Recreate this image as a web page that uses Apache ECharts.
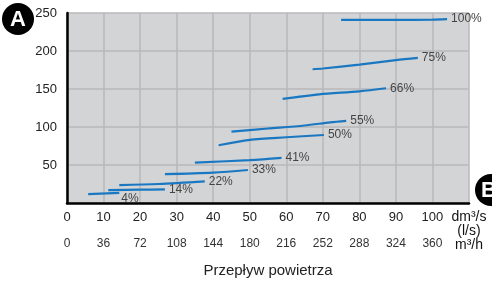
<!DOCTYPE html>
<html lang="pl">
<head>
    <meta charset="UTF-8">
    <title>Przepływ powietrza</title>
    <script src="https://cdn.jsdelivr.net/npm/echarts@6/dist/echarts.min.js"></script>
    <style>
        html, body { margin: 0; padding: 0; background: #fff; }
        #chart { width: 492px; height: 284px; }
    </style>
</head>
<body>
<div id="chart"></div>
<script type="text/javascript">
    // curves: [flow dm3/s, pressure]
    var curveNames = ['100%', '75%', '66%', '55%', '50%', '41%', '33%', '22%', '14%', '4%'];
    var c100 = [[75, 241], [90, 241], [100, 241.3], [104, 242]];
    var c75 = [[67.2, 176], [70, 177], [80, 182], [90, 188], [96, 191]];
    var c66 = [[59, 137], [69, 143], [80, 147], [87.3, 151]];
    var c55 = [[45, 94], [55, 98], [65, 102], [72, 106], [76.4, 108]];
    var c50 = [[41.5, 76], [50, 83], [60, 86.5], [70.3, 89.5]];
    var c41 = [[35, 53], [50, 56.5], [58.7, 59.5]];
    var c33 = [[26.8, 38], [40, 40], [49.5, 43.4]];
    var c22 = [[14.3, 23.6], [25, 25], [37.7, 28.5]];
    var c14 = [[11.3, 17], [20, 17.5], [26.8, 18]];
    var c4 = [[5.8, 11.8], [14.3, 13.2]];
    var curves = [c100, c75, c66, c55, c50, c41, c33, c22, c14, c4];

    var xUnitTop = '{u|dm³/s}\n{u|(l/s)}';
    var xUnitBottom = '{u|m³/h}';
    var m3hFactor = 3.6;

    var myChart = echarts.init(document.getElementById('chart'));

    var series = [];
    for (var i = 0; i < curves.length; i++) {
        var isLast = curveNames[i] === '4%';
        series.push({
            name: curveNames[i],
            type: 'line',
            data: curves[i],
            smooth: 0.3,
            showSymbol: false,
            silent: true,
            lineStyle: { color: '#1a78c2', width: 2.2 },
            endLabel: {
                show: true,
                formatter: '{a}',
                color: '#444',
                fontSize: 12,
                fontFamily: 'Liberation Sans',
                distance: 4,
                offset: isLast ? [-2, 6] : [0, 0]
            }
        });
    }

    var unitRich = { u: { fontSize: 14, color: '#111', fontFamily: 'Liberation Sans', lineHeight: 14 } };

    var option = {
        animation: false,
        grid: {
            left: 67, right: 23, top: 13, bottom: 81,
            show: true, backgroundColor: '#d3d4d6', borderWidth: 0
        },
        xAxis: [{
            type: 'value', min: 0, max: 110, interval: 10,
            axisLine: { show: true, onZero: false, lineStyle: { color: '#000', width: 2.5 } },
            axisTick: { show: false },
            splitLine: { lineStyle: { color: '#b8b9bb', width: 1.5 } },
            axisLabel: {
                color: '#222', fontSize: 13, margin: 7, fontFamily: 'Liberation Sans',
                verticalAlign: 'top', lineHeight: 14, rich: unitRich,
                formatter: function (v) { return v === 110 ? xUnitTop : v; }
            }
        }, {
            type: 'value', min: 0, max: 110, interval: 10, position: 'bottom', offset: 27,
            axisLine: { show: false },
            axisTick: { show: false },
            splitLine: { show: false },
            axisLabel: {
                color: '#333', fontSize: 12, margin: 8, fontFamily: 'Liberation Sans', rich: unitRich,
                formatter: function (v) { return v === 110 ? xUnitBottom : Math.round(v * m3hFactor); }
            },
            name: 'Przepływ powietrza',
            nameLocation: 'middle',
            nameGap: 33,
            nameTextStyle: { color: '#222', fontSize: 15, fontFamily: 'Liberation Sans' }
        }],
        yAxis: {
            type: 'value', min: 0, max: 250, interval: 50,
            axisLine: { show: true, lineStyle: { color: '#000', width: 2.5 } },
            axisTick: { show: false },
            splitLine: { lineStyle: { color: '#b8b9bb', width: 1.5 } },
            axisLabel: {
                color: '#222', fontSize: 13, margin: 10, fontFamily: 'Liberation Sans',
                formatter: function (v) { return v === 0 ? '' : v; }
            }
        },
        graphic: [
            { type: 'circle', shape: { cx: 18, cy: 19, r: 16 }, style: { fill: '#000' }, z: 100 },
            { type: 'text', x: 18, y: 20, style: { text: 'A', fill: '#fff', fontSize: 22, fontWeight: 'bold', fontFamily: 'Liberation Sans', align: 'center', verticalAlign: 'middle' }, z: 101 },
            { type: 'circle', shape: { cx: 491, cy: 190, r: 16 }, style: { fill: '#000' }, z: 100 },
            { type: 'text', x: 489, y: 191, style: { text: 'B', fill: '#fff', fontSize: 22, fontWeight: 'bold', fontFamily: 'Liberation Sans', align: 'center', verticalAlign: 'middle' }, z: 101 }
        ],
        series: series
    };
    myChart.setOption(option);
</script>
</body>
</html>
